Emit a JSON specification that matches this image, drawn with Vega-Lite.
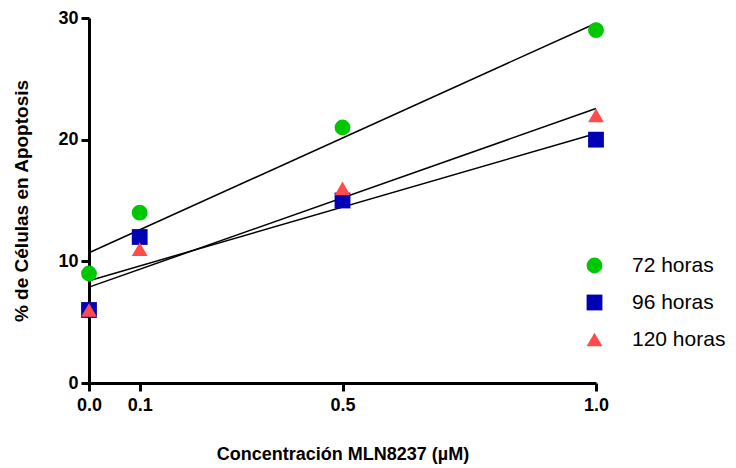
{
  "$schema": "https://vega.github.io/schema/vega-lite/v6.json",
  "width": 507,
  "height": 365,
  "autosize": "none",
  "padding": {"left": 89, "top": 18, "right": 140, "bottom": 85},
  "background": "white",
  "config": {
    "view": {"stroke": null},
    "font": "Liberation Sans",
    "axis": {
      "grid": false,
      "domainColor": "black",
      "domainWidth": 3,
      "tickColor": "black",
      "tickWidth": 3,
      "tickSize": 8,
      "labelFont": "Liberation Sans",
      "labelFontSize": 18,
      "labelFontWeight": "bold",
      "labelColor": "black",
      "labelFlush": false,
      "labelOverlap": false,
      "titleFont": "Liberation Sans",
      "titleFontSize": 18,
      "titleFontWeight": "bold",
      "titleColor": "black"
    }
  },
  "data": {
    "values": [
      {"x": 0, "y": 9, "serie": "72 horas"},
      {"x": 0.1, "y": 14, "serie": "72 horas"},
      {"x": 0.5, "y": 21, "serie": "72 horas"},
      {"x": 1, "y": 29, "serie": "72 horas"},
      {"x": 0, "y": 6, "serie": "96 horas"},
      {"x": 0.1, "y": 12, "serie": "96 horas"},
      {"x": 0.5, "y": 15, "serie": "96 horas"},
      {"x": 1, "y": 20, "serie": "96 horas"},
      {"x": 0, "y": 6, "serie": "120 horas"},
      {"x": 0.1, "y": 11, "serie": "120 horas"},
      {"x": 0.5, "y": 16, "serie": "120 horas"},
      {"x": 1, "y": 22, "serie": "120 horas"}
    ]
  },
  "layer": [
    {
      "transform": [
        {"regression": "y", "on": "x", "groupby": ["serie"], "extent": [0, 1]}
      ],
      "mark": {"type": "line", "color": "black", "strokeWidth": 1.5},
      "encoding": {
        "x": {"field": "x", "type": "quantitative"},
        "y": {"field": "y", "type": "quantitative"},
        "detail": {"field": "serie"}
      }
    },
    {
      "mark": {"type": "point", "filled": true, "size": 250, "opacity": 1},
      "encoding": {
        "x": {
          "field": "x",
          "type": "quantitative",
          "scale": {"domain": [0, 1], "nice": false, "zero": false},
          "axis": {
            "values": [0, 0.1, 0.5, 1],
            "format": ".1f",
            "title": "Concentración MLN8237 (µM)",
            "labelPadding": 5,
            "titlePadding": 31
          }
        },
        "y": {
          "field": "y",
          "type": "quantitative",
          "scale": {"domain": [0, 30], "nice": false},
          "axis": {
            "values": [0, 10, 20, 30],
            "title": "% de Células en Apoptosis",
            "titleFontSize": 19,
            "labelPadding": 3,
            "titlePadding": 26
          }
        },
        "color": {
          "field": "serie",
          "type": "nominal",
          "sort": ["72 horas", "96 horas", "120 horas"],
          "scale": {"domain": ["72 horas", "96 horas", "120 horas"], "range": ["#00C800", "#0000B4", "#FF4B4B"]},
          "legend": {
            "title": null,
            "orient": "none",
            "legendX": 495,
            "legendY": 237,
            "labelFont": "Liberation Sans",
            "labelFontSize": 21,
            "labelColor": "black",
            "symbolSize": 250,
            "symbolOpacity": 1,
            "rowPadding": 14,
            "labelOffset": 27
          }
        },
        "shape": {
          "field": "serie",
          "type": "nominal",
          "sort": ["72 horas", "96 horas", "120 horas"],
          "scale": {"domain": ["72 horas", "96 horas", "120 horas"], "range": ["circle", "square", "triangle-up"]}
        }
      }
    }
  ]
}
